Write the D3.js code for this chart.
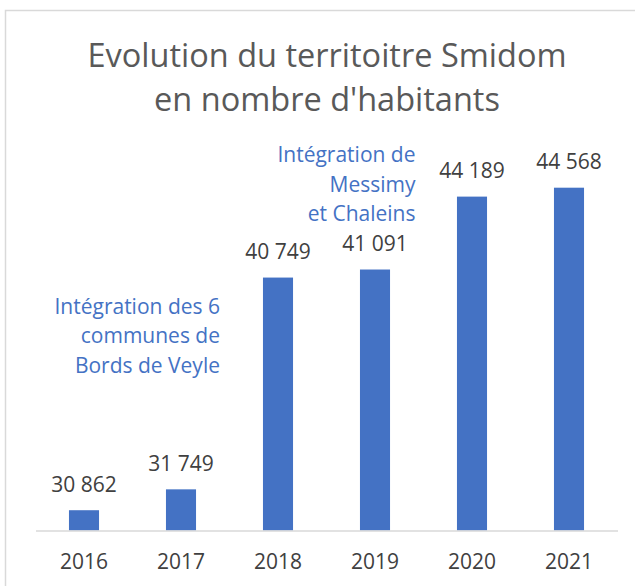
<!DOCTYPE html>
<html>
<head>
<meta charset="utf-8">
<script src="https://cdn.jsdelivr.net/npm/d3@7"></script>
<style>
  body { margin: 0; background: #fff; }
  text { font-family: "Open Sans", sans-serif; }
</style>
</head>
<body>
<div id="chart"></div>
<script>
// data
var years = ["2016", "2017", "2018", "2019", "2020", "2021"];
var habitants = [30862, 31749, 40749, 41091, 44189, 44568];
var titleLines = ["Evolution du territoitre Smidom", "en nombre d'habitants"];
var noteBordsDeVeyle = ["Intégration des 6", "communes de", "Bords de Veyle"];
var noteMessimy = ["Intégration de", "Messimy", "et Chaleins"];

var w = 635, h = 586;
var plot = { left: 35.5, right: 617.5, top: 154, bottom: 530.5 };
var blue = "#4472C4";

var data = years.map(function(d, i) { return { year: d, value: habitants[i] }; });

var svg = d3.select("#chart").append("svg")
    .attr("width", w)
    .attr("height", h);

// chart frame (cut off on the right and bottom like the screenshot)
svg.append("rect")
    .attr("x", 5.5).attr("y", 10.5)
    .attr("width", 660).attr("height", 600)
    .attr("fill", "#fff")
    .attr("stroke", "#d9d9d9")
    .attr("stroke-width", 1.5);

var x = d3.scaleBand()
    .domain(years)
    .range([plot.left, plot.right])
    .paddingInner(0.69)
    .paddingOuter(0.345);

var y = d3.scaleLinear()
    .domain([30000, 46000])
    .range([plot.bottom, plot.top]);

// title
svg.append("g").selectAll("text")
    .data(titleLines)
    .enter().append("text")
    .attr("x", 327)
    .attr("y", (d, i) => 66.5 + i * 44)
    .attr("text-anchor", "middle")
    .attr("font-size", "32.5px")
    .attr("fill", "#595959")
    .text((d) => d);

// bars
svg.selectAll("rect.bar")
    .data(data)
    .enter().append("rect")
    .attr("class", "bar")
    .attr("x", (d) => x(d.year))
    .attr("y", (d) => y(d.value))
    .attr("width", x.bandwidth())
    .attr("height", (d) => plot.bottom - y(d.value))
    .attr("fill", blue);

// x axis
var xAxis = svg.append("g")
    .attr("transform", "translate(0," + plot.bottom + ")")
    .call(d3.axisBottom(x).tickSize(0).tickPadding(24));
xAxis.select(".domain").attr("stroke", "#d9d9d9").attr("stroke-width", 1.5);
xAxis.selectAll("text")
    .attr("font-family", "Open Sans, sans-serif")
    .attr("font-size", "21px")
    .attr("fill", "#404040");

// value labels
var fmt = (v) => d3.format(",")(v).replace(",", " ");
svg.append("g").selectAll("text")
    .data(data)
    .enter().append("text")
    .attr("x", (d) => x(d.year) + x.bandwidth() / 2)
    .attr("y", (d) => y(d.value) - 18.5)
    .attr("text-anchor", "middle")
    .attr("font-size", "21px")
    .attr("fill", "#404040")
    .text((d) => fmt(d.value));

// annotations
function note(lines, xr, y0) {
    svg.append("g").selectAll("text")
        .data(lines)
        .enter().append("text")
        .attr("x", xr)
        .attr("y", (d, i) => y0 + i * 29.5)
        .attr("text-anchor", "end")
        .attr("font-size", "21px")
        .attr("fill", blue)
        .text((d) => d);
}
note(noteBordsDeVeyle, 220, 313.5);
note(noteMessimy, 415.5, 162);
</script>
</body>
</html>
